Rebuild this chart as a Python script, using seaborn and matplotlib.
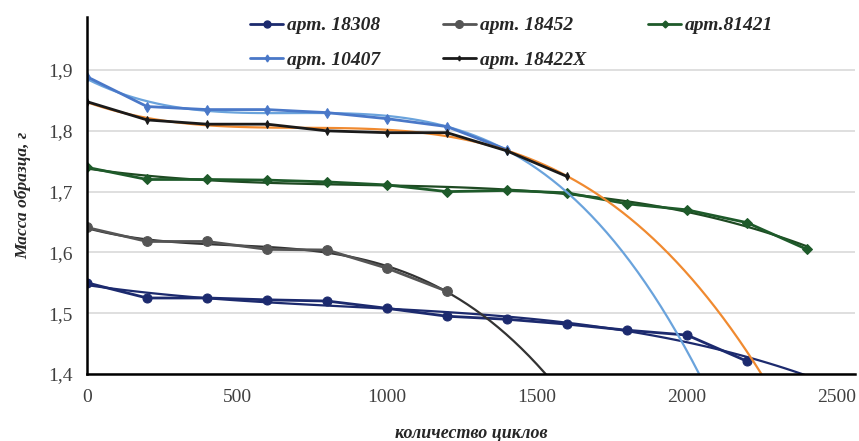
import numpy as np
import pandas as pd
import matplotlib
matplotlib.use("Agg")
import matplotlib.pyplot as plt
import seaborn as sns
from matplotlib.ticker import FuncFormatter

# ---- data ----
cycles_a = [0, 200, 400, 600, 800, 1000, 1200, 1400, 1600, 1800, 2000, 2200]
art_18308 = [1.550, 1.525, 1.525, 1.522, 1.520, 1.508, 1.495, 1.490, 1.482, 1.472, 1.464, 1.421]

cycles_b = [0, 200, 400, 600, 800, 1000, 1200]
art_18452 = [1.641, 1.618, 1.618, 1.605, 1.604, 1.574, 1.536]

cycles_c = [0, 200, 400, 600, 800, 1000, 1200, 1400, 1600, 1800, 2000, 2200, 2400]
art_81421 = [1.740, 1.720, 1.720, 1.719, 1.716, 1.711, 1.700, 1.702, 1.698, 1.680, 1.670, 1.649, 1.605]

cycles_d = [0, 200, 400, 600, 800, 1000, 1200, 1400]
art_10407 = [1.889, 1.840, 1.835, 1.835, 1.830, 1.820, 1.807, 1.769]

cycles_e = [0, 200, 400, 600, 800, 1000, 1200, 1400, 1600]
art_18422x = [1.848, 1.818, 1.811, 1.811, 1.800, 1.797, 1.797, 1.767, 1.725]

labels = ["арт. 18308", "арт. 18452", "арт.81421", "арт. 10407", "арт. 18422X"]
y_ticks = [1.4, 1.5, 1.6, 1.7, 1.8, 1.9]
x_ticks = [0, 500, 1000, 1500, 2000, 2500]

# (x, y, label, line colour, trend colour, marker, marker size, trend order, extend trend)
series = [
    (cycles_a, art_18308, labels[0], "#1c2a6e", "#1c2a6e", "o", 6.5, 3, True),
    (cycles_b, art_18452, labels[1], "#555555", "#333333", "o", 7, 3, True),
    (cycles_c, art_81421, labels[2], "#1e5a2a", "#1e4a22", "D", 5, 3, False),
    (cycles_d, art_10407, labels[3], "#4a78c8", "#6aa3dc", "d", 5, 3, True),
    (cycles_e, art_18422x, labels[4], "#1a1a1a", "#f08a30", "d", 4, 3, True),
]

sns.set_style("white")
serif = ["Liberation Serif", "DejaVu Serif"]

fig = plt.figure(figsize=(8.59, 4.41), dpi=100)
ax = fig.add_axes([0.1013, 0.152, 0.894, 0.809])
ax.set_xlim(0, 2560)
ax.set_ylim(1.4, 1.987)

handles = {}
for xs, ys, lab, col, tcol, mk, ms, order, extend in series:
    df = pd.DataFrame({"x": xs, "y": ys})
    sns.regplot(data=df, x="x", y="y", order=order, ci=None, scatter=False,
                truncate=not extend, ax=ax, line_kws=dict(color=tcol, lw=1.6))
    sns.lineplot(data=df, x="x", y="y", ax=ax, color=col, lw=2.0, marker=mk,
                 markersize=ms, markeredgecolor=col, label=lab, legend=False)
    handles[lab] = plt.Line2D([], [], color=col, lw=2.0, marker=mk, markersize=ms - 1.5,
                              markeredgecolor=col)

ax.set_xlim(0, 2560)
ax.set_ylim(1.4, 1.987)
ax.set_xticks(x_ticks)
ax.set_yticks(y_ticks)
ax.yaxis.set_major_formatter(FuncFormatter(lambda v, p: f"{v:.1f}".replace(".", ",")))
ax.grid(axis="y", color="#d9d9d9", lw=1.2)
ax.grid(axis="x", visible=False)
for s in ["top", "right"]:
    ax.spines[s].set_visible(False)
for s in ["left", "bottom"]:
    ax.spines[s].set_color("black")
    ax.spines[s].set_linewidth(1.8)
ax.tick_params(axis="both", direction="inout", length=9, width=1.5, colors="black",
               labelcolor="#404040", labelsize=14, pad=6)
for t in ax.get_xticklabels() + ax.get_yticklabels():
    t.set_family(serif)

ax.set_xlabel("количество циклов", family=serif, fontsize=13, fontweight="bold",
              fontstyle="italic", labelpad=14)
ax.set_ylabel("Масса образца, г", family=serif, fontsize=12.5, fontweight="bold",
              fontstyle="italic", labelpad=12)

order_leg = [labels[0], labels[3], labels[1], labels[4], labels[2]]
leg = ax.legend([handles[l] for l in order_leg], order_leg, ncol=3, loc="upper left",
                bbox_to_anchor=(0.19, 1.05), frameon=False, handlelength=1.7,
                handletextpad=0.2, columnspacing=3.2, labelspacing=0.85,
                prop=dict(family=serif, size=14, weight="bold", style="italic"))

fig.savefig("out.png", dpi=100)
